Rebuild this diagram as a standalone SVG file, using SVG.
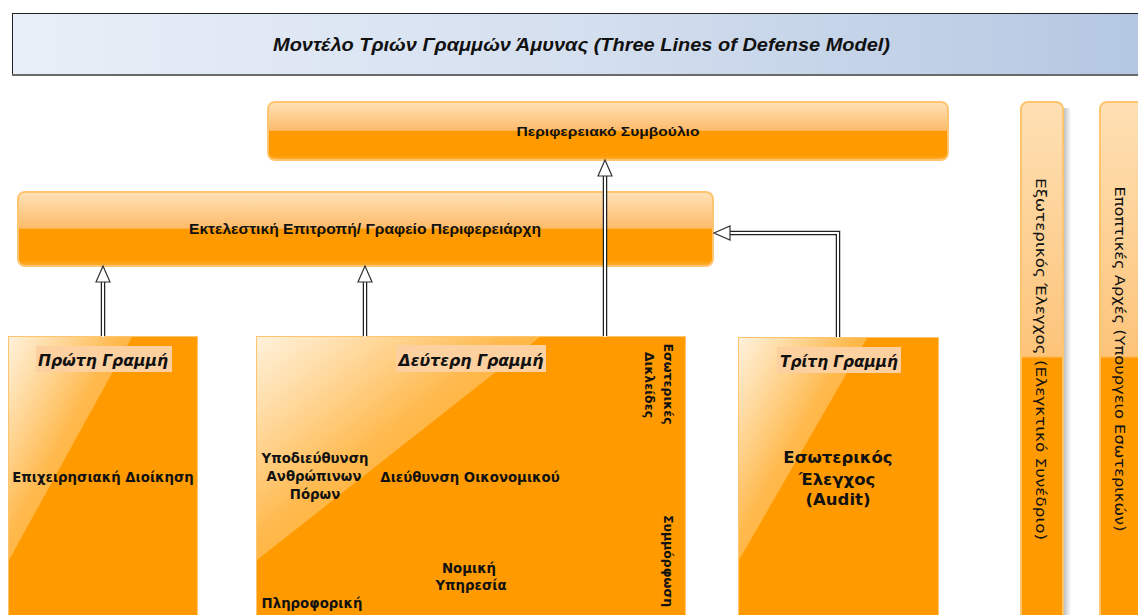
<svg xmlns="http://www.w3.org/2000/svg" width="1138" height="615" viewBox="0 0 1138 615">
<defs>
<linearGradient id="hdr" x1="0" y1="0" x2="1" y2="0">
<stop offset="0" stop-color="#e9eff8"/><stop offset="0.5" stop-color="#d4dfef"/><stop offset="1" stop-color="#b4c7e1"/>
</linearGradient>
<linearGradient id="pill" x1="0" y1="0" x2="0" y2="1">
<stop offset="0" stop-color="#fee2b8"/><stop offset="0.49" stop-color="#fdbb6a"/><stop offset="0.5" stop-color="#ff9b00"/><stop offset="0.92" stop-color="#ff9b00"/><stop offset="1" stop-color="#ffae3a"/>
</linearGradient>
<linearGradient id="vert" gradientUnits="userSpaceOnUse" x1="0" y1="102" x2="0" y2="615">
<stop offset="0" stop-color="#fee0b4"/><stop offset="0.495" stop-color="#fdc47a"/><stop offset="0.5" stop-color="#ff9b00"/><stop offset="1" stop-color="#ff9b00"/>
</linearGradient>
<linearGradient id="gloss" x1="0" y1="0" x2="1" y2="1">
<stop offset="0" stop-color="#fff6e6" stop-opacity="0.95"/><stop offset="0.45" stop-color="#ffffff" stop-opacity="0.3"/><stop offset="1" stop-color="#ffffff" stop-opacity="0.08"/>
</linearGradient>
<linearGradient id="shadow" x1="0" y1="0" x2="1" y2="0">
<stop offset="0" stop-color="#b8b8b8"/><stop offset="1" stop-color="#ffffff"/>
</linearGradient>
</defs>
<style>
.pillbox{fill:url(#pill);stroke:#ffc46e;stroke-width:2}
.vbox{fill:url(#vert);stroke:#ffc46e;stroke-width:2}
.line{fill:#ff9b00;stroke:#ffc46e;stroke-width:1}
.gloss{fill:url(#gloss)}
.lbg{fill:#fdd0a0}
.t{font-family:"DejaVu Sans",Verdana,sans-serif;font-weight:bold;fill:#111;text-anchor:middle}
.n{font-family:"Liberation Sans",Arial,sans-serif;font-weight:bold;fill:#111;text-anchor:middle}
.lab{font-family:"DejaVu Sans",Verdana,sans-serif;font-weight:bold;font-style:italic;font-size:16px;fill:#111;text-anchor:middle}
.v{font-family:"DejaVu Sans",Verdana,sans-serif;font-size:14px;fill:#111;text-anchor:middle}
.so{fill:none;stroke:#222;stroke-width:4.5}
.si{fill:none;stroke:#fff;stroke-width:2}
.head{fill:#fff;stroke:#333;stroke-width:1.2;stroke-linejoin:miter}
</style>

<g id="header">
<rect x="12.5" y="13.5" width="1140" height="61" fill="url(#hdr)" stroke="#222" stroke-width="1"/>
<rect x="12" y="74" width="1130" height="2" fill="#6a6a6a"/>
<text x="581.5" y="51" font-family="'Liberation Sans',Arial,sans-serif" font-size="17.5" font-weight="bold" font-style="italic" fill="#111" text-anchor="middle" textLength="617" lengthAdjust="spacingAndGlyphs">Μοντέλο Τριών Γραμμών  Άμυνας (Three Lines of Defense Model)</text>
</g>

<g id="council">
<rect class="pillbox" x="268" y="102" width="680" height="58" rx="7"/>
<text class="n" x="608" y="136" font-size="13.5" textLength="183" lengthAdjust="spacingAndGlyphs">Περιφερειακό Συμβούλιο</text>
</g>

<g id="executive">
<rect class="pillbox" x="18" y="192" width="695" height="74" rx="7"/>
<text class="n" x="365" y="234" font-size="14.5" textLength="352" lengthAdjust="spacingAndGlyphs">Εκτελεστική Επιτροπή/ Γραφείο Περιφερειάρχη</text>
</g>

<g id="first-line">
<rect class="line" x="8.5" y="336.5" width="189" height="290"/>
<polygon class="gloss" points="9,337 132,337 9,560"/>
<rect class="lbg" x="36" y="346" width="136" height="26"/>
<text class="lab" x="103" y="366" textLength="130" lengthAdjust="spacingAndGlyphs">Πρώτη Γραμμή</text>
<text class="t" x="103" y="482" font-size="13.3">Επιχειρησιακή Διοίκηση</text>
</g>

<g id="second-line">
<rect class="line" x="256.5" y="336.5" width="429" height="290"/>
<polygon class="gloss" points="257,337 540,337 257,560"/>
<rect class="lbg" x="396" y="345" width="150" height="27"/>
<text class="lab" x="471" y="366" textLength="145" lengthAdjust="spacingAndGlyphs">Δεύτερη Γραμμή</text>
<text class="t" x="315" y="463" font-size="13.3">Υποδιεύθυνση</text>
<text class="t" x="314" y="481" font-size="13.3">Ανθρώπινων</text>
<text class="t" x="315" y="499" font-size="13.3">Πόρων</text>
<text class="t" x="470" y="482" font-size="13.3">Διεύθυνση Οικονομικού</text>
<text class="t" x="469" y="573" font-size="13.3">Νομική</text>
<text class="t" x="471" y="590" font-size="13.3">Υπηρεσία</text>
<text class="t" x="312" y="608" font-size="13.3">Πληροφορική</text>
<text class="t" font-size="12.5" transform="translate(664,384) rotate(90)">Εσωτερικές</text>
<text class="t" font-size="12.5" transform="translate(645,385) rotate(90)">Δικλείδες</text>
<text class="t" font-size="12.5" transform="translate(664,561) rotate(90)">Συμμόρφωση</text>
</g>

<g id="third-line">
<rect class="line" x="738.5" y="337.5" width="200" height="290"/>
<polygon class="gloss" points="739,338 867,338 739,560"/>
<rect class="lbg" x="777" y="347" width="124" height="26"/>
<text class="lab" x="839" y="367" textLength="118" lengthAdjust="spacingAndGlyphs">Τρίτη Γραμμή</text>
<text class="t" x="838" y="463" font-size="16.5">Εσωτερικός</text>
<text class="t" x="837" y="485" font-size="16.5">Έλεγχος</text>
<text class="t" x="838" y="505" font-size="16.5">(Audit)</text>
</g>

<g id="external-audit">
<rect x="1063" y="108" width="8" height="520" fill="url(#shadow)"/>
<rect class="vbox" x="1021" y="102" width="42" height="540" rx="7"/>
<text class="v" transform="translate(1036,359) rotate(90)" textLength="362" lengthAdjust="spacingAndGlyphs">Εξωτερικός Έλεγχος (Ελεγκτικό Συνέδριο)</text>
</g>

<g id="supervisory">
<rect class="vbox" x="1100" y="102" width="60" height="540" rx="7"/>
<text class="v" transform="translate(1115,359) rotate(90)" textLength="345" lengthAdjust="spacingAndGlyphs">Εποπτικές Αρχές (Υπουργειο Εσωτερικών)</text>
</g>

<g id="connectors">
<path class="so" d="M103,336 V281"/><path class="si" d="M103,337 V281"/>
<polygon class="head" points="103,266 96,282 110,282"/>
<path class="so" d="M365,336 V281"/><path class="si" d="M365,337 V281"/>
<polygon class="head" points="365,266 358,282 372,282"/>
<path class="so" d="M605,336 V175"/><path class="si" d="M605,337 V175"/>
<polygon class="head" points="605,160 598,176 612,176"/>
<path class="so" d="M838,337 V233 H729"/><path class="si" d="M838,338 V233 H729"/>
<polygon class="head" points="714,233 730,226 730,240"/>
</g>
</svg>
